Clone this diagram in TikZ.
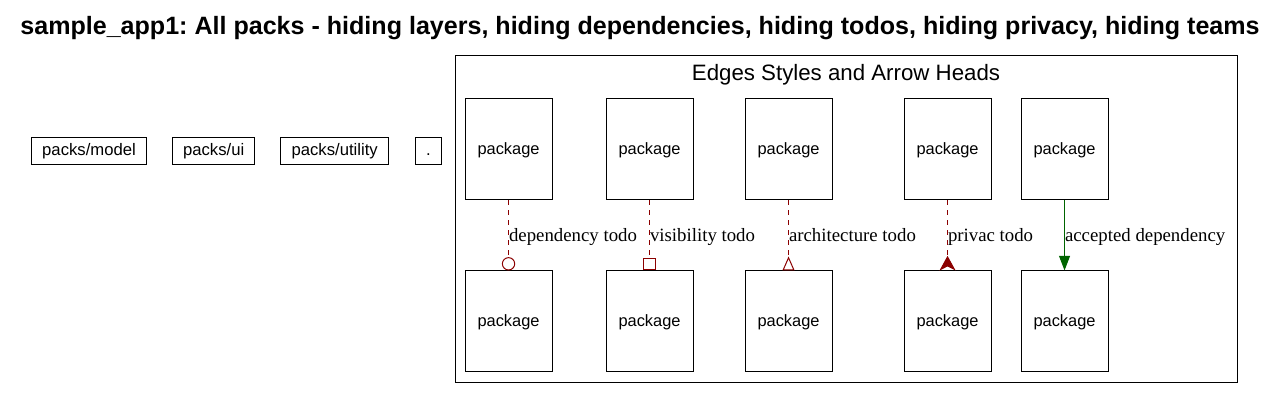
\documentclass[tikz,border=0pt]{standalone}
\usepackage{fontspec}
\setmainfont{Liberation Serif}
\newfontfamily\arialfont{Liberation Sans}
\usepackage{xcolor}
\usetikzlibrary{positioning}
\usetikzlibrary{arrows.meta,calc}

\definecolor{todored}{HTML}{8B0000}
\definecolor{okgreen}{HTML}{006400}

\begin{document}
\frenchspacing
\begin{tikzpicture} [
       line width=0.75pt,
       pack/.style={draw, font=\arialfont\fontsize{12.5}{14}\selectfont,
               inner xsep=8pt, minimum height=20.25pt, text height=9.3pt, text depth=2.5pt},
       package/.style={draw, font=\arialfont\fontsize{12.3}{14}\selectfont,
               minimum width=65.25pt, minimum height=75.75pt, text height=10.7pt, text depth=2.5pt},
       texte/.style={font=\fontsize{14.1}{16}\selectfont, inner sep=0pt, anchor=base west, yshift=-4.5pt},
       todo/.style={draw=todored, dash pattern=on 3.75pt off 3.75pt},
       accepted/.style={draw=okgreen, -{Triangle[length=11pt,width=8.25pt]}},
       node distance=52.5pt,
       ]
       \useasboundingbox (0,0) rectangle (959.25pt,-300pt);
       \node (title) at (480pt,-21pt) [font=\arialfont\bfseries\fontsize{18.8}{20}\selectfont]
              {sample\_app1: All packs - hiding layers, hiding dependencies, hiding todos, hiding privacy, hiding teams};
       % packs
       \node (model) at (66.75pt,-112.9pt) [pack] {packs/model};
       \node (ui) [pack, right=18.75pt of model] {packs/ui};
       \node (utility) [pack, right=18.75pt of ui] {packs/utility};
       \node (root) [pack, right=19.5pt of utility] {.};
       % legend
       \draw (341.25pt,-41.25pt) rectangle (927.75pt,-286.5pt);
       \node (legend) at (634.5pt,-56pt) [font=\arialfont\fontsize{16.7}{18}\selectfont]
              {Edges Styles and Arrow Heads};
       \node (a1) at (381.4pt,-112.1pt) [package] {package};
       \node (a2) [package, right=39.75pt of a1] {package};
       \node (a3) [package, right=38.25pt of a2] {package};
       \node (a4) [package, right=53.25pt of a3] {package};
       \node (a5) [package, right=21.75pt of a4] {package};
       \node (b1) [package, below=of a1] {package};
       \node (b2) [package, below=of a2] {package};
       \node (b3) [package, below=of a3] {package};
       \node (b4) [package, below=of a4] {package};
       \node (b5) [package, below=of a5] {package};
       % labels
       \path (a1) -- node[texte] {dependency todo} (b1);
       \path (a2) -- node[texte] {visibility todo} (b2);
       \path (a3) -- node[texte] {architecture todo} (b3);
       \path (a4) -- node[texte] {privac todo} (b4);
       \path (a5) -- node[texte] {accepted dependency} (b5);
       % edges
       \path[todo, -{Circle[open,length=10pt]}] (a1) -- (b1);
       \path[todo, -{Square[open,length=9.5pt,width=9.5pt]}] (a2) -- (b2);
       \path[todo, -{Triangle[open,reversed,length=10.5pt,width=9pt]}] (a3) -- (b3);
       \path[todo, -{Stealth[reversed,length=11pt,width=12pt,inset=3pt]}] (a4) -- (b4);
       \path[accepted] (a5) -- (b5);
\end{tikzpicture}
\end{document}
